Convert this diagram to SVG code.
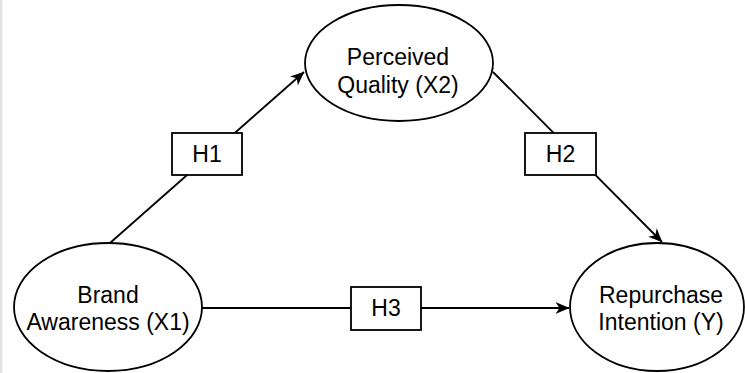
<svg xmlns="http://www.w3.org/2000/svg" width="745" height="373" viewBox="0 0 745 373">
<style>
.node{fill:#fff;stroke:#000;stroke-width:1.8}
.lbl{font-family:"Liberation Sans",Arial,sans-serif;font-size:23px;fill:#000;text-anchor:middle}
.edge{fill:none;stroke:#000;stroke-width:1.8}
</style>
<defs>
<marker id="arr" viewBox="0 0 14 12" refX="13.5" refY="6" markerWidth="14" markerHeight="12" markerUnits="userSpaceOnUse" orient="auto">
<path d="M0,0 L14,6 L0,12 L4,6 z" fill="#000"/>
</marker>
</defs>
<rect x="0" y="0" width="745" height="373" fill="#fff"/>
<rect x="0" y="0" width="2.5" height="373" fill="#e4e4e4"/>
<g id="connectors">
<line class="edge" x1="110" y1="243" x2="304" y2="72" marker-end="url(#arr)"/>
<line class="edge" x1="493" y1="72" x2="662" y2="242" marker-end="url(#arr)"/>
<line class="edge" x1="202" y1="308" x2="569" y2="308" marker-end="url(#arr)"/>
</g>
<g id="h1">
<rect class="node" x="172" y="133" width="70" height="42"/>
<text class="lbl" x="207" y="162">H1</text>
</g>
<g id="h2">
<rect class="node" x="525" y="133" width="71" height="42"/>
<text class="lbl" x="560.5" y="162">H2</text>
</g>
<g id="h3">
<rect class="node" x="351" y="287" width="70" height="43"/>
<text class="lbl" x="386" y="316">H3</text>
</g>
<g id="brand-awareness">
<ellipse class="node" cx="108" cy="307" rx="94" ry="64"/>
<text class="lbl" x="108" y="303">Brand</text>
<text class="lbl" x="108" y="330">Awareness (X1)</text>
</g>
<g id="perceived-quality">
<ellipse class="node" cx="399" cy="63" rx="94" ry="58"/>
<text class="lbl" x="398" y="65">Perceived</text>
<text class="lbl" x="398" y="93">Quality (X2)</text>
</g>
<g id="repurchase-intention">
<ellipse class="node" cx="657" cy="307" rx="87" ry="64"/>
<text class="lbl" x="661" y="303">Repurchase</text>
<text class="lbl" x="661" y="330">Intention (Y)</text>
</g>
</svg>
